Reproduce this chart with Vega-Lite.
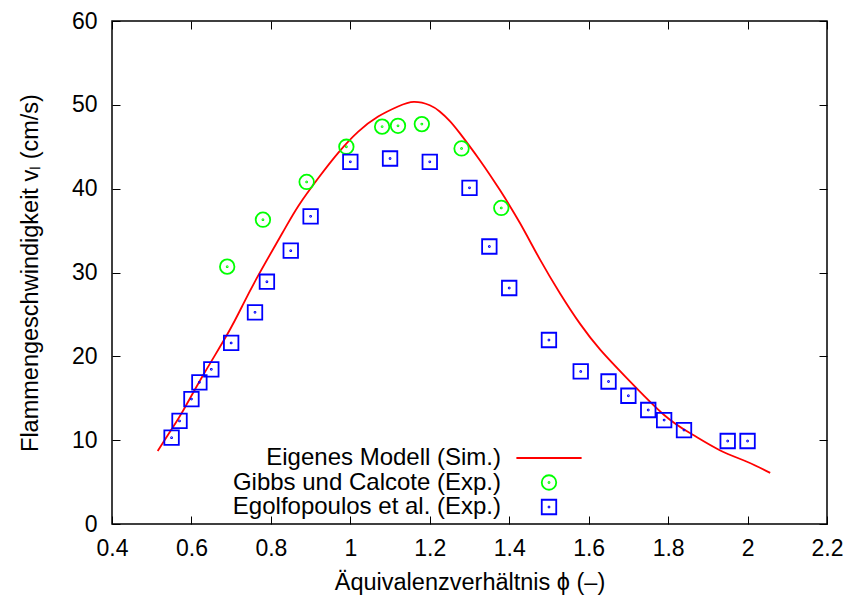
{
  "$schema": "https://vega.github.io/schema/vega-lite/v6.json",
  "width": 715,
  "height": 503,
  "autosize": {"type": "none"},
  "padding": {"left": 112, "top": 21, "right": 22, "bottom": 74},
  "background": "white",
  "config": {
    "font": "Liberation Sans",
    "view": {"stroke": "black", "strokeWidth": 1.5},
    "axis": {
      "grid": false,
      "domain": false,
      "labelFlush": false,
      "labelOverlap": false,
      "tickColor": "black",
      "tickSize": -8,
      "tickWidth": 1,
      "labelFontSize": 23,
      "labelColor": "black",
      "titleFontSize": 23.5,
      "titleFontWeight": "normal",
      "titleColor": "black"
    },
    "legend": {
      "orient": "none",
      "legendX": 425,
      "legendY": 425,
      "labelAlign": "right",
      "labelOffset": -60,
      "labelFontSize": 24,
      "labelColor": "black",
      "labelLimit": 400,
      "symbolStrokeWidth": 1.8,
      "symbolSize": 210,
      "rowPadding": 0.5
    }
  },
  "datasets": {
    "model": [
      {"series": "Eigenes Modell (Sim.)", "phi": 0.515, "v": 8.7},
      {"series": "Eigenes Modell (Sim.)", "phi": 0.55, "v": 11.3},
      {"series": "Eigenes Modell (Sim.)", "phi": 0.58, "v": 13.6},
      {"series": "Eigenes Modell (Sim.)", "phi": 0.63, "v": 17.8},
      {"series": "Eigenes Modell (Sim.)", "phi": 0.69, "v": 22.6},
      {"series": "Eigenes Modell (Sim.)", "phi": 0.73, "v": 26.2},
      {"series": "Eigenes Modell (Sim.)", "phi": 0.77, "v": 29.8},
      {"series": "Eigenes Modell (Sim.)", "phi": 0.83, "v": 34.8},
      {"series": "Eigenes Modell (Sim.)", "phi": 0.87, "v": 38.0},
      {"series": "Eigenes Modell (Sim.)", "phi": 0.92, "v": 41.3},
      {"series": "Eigenes Modell (Sim.)", "phi": 0.97, "v": 44.3},
      {"series": "Eigenes Modell (Sim.)", "phi": 1.02, "v": 46.8},
      {"series": "Eigenes Modell (Sim.)", "phi": 1.07, "v": 48.6},
      {"series": "Eigenes Modell (Sim.)", "phi": 1.12, "v": 49.8},
      {"series": "Eigenes Modell (Sim.)", "phi": 1.16, "v": 50.35},
      {"series": "Eigenes Modell (Sim.)", "phi": 1.2, "v": 49.95},
      {"series": "Eigenes Modell (Sim.)", "phi": 1.225, "v": 49.2},
      {"series": "Eigenes Modell (Sim.)", "phi": 1.25, "v": 48.1},
      {"series": "Eigenes Modell (Sim.)", "phi": 1.276, "v": 46.6},
      {"series": "Eigenes Modell (Sim.)", "phi": 1.326, "v": 43.4},
      {"series": "Eigenes Modell (Sim.)", "phi": 1.377, "v": 39.8},
      {"series": "Eigenes Modell (Sim.)", "phi": 1.427, "v": 35.9},
      {"series": "Eigenes Modell (Sim.)", "phi": 1.478, "v": 31.5},
      {"series": "Eigenes Modell (Sim.)", "phi": 1.528, "v": 27.5},
      {"series": "Eigenes Modell (Sim.)", "phi": 1.578, "v": 23.9},
      {"series": "Eigenes Modell (Sim.)", "phi": 1.629, "v": 20.8},
      {"series": "Eigenes Modell (Sim.)", "phi": 1.696, "v": 17.4},
      {"series": "Eigenes Modell (Sim.)", "phi": 1.79, "v": 13.0},
      {"series": "Eigenes Modell (Sim.)", "phi": 1.86, "v": 10.7},
      {"series": "Eigenes Modell (Sim.)", "phi": 1.93, "v": 8.8},
      {"series": "Eigenes Modell (Sim.)", "phi": 2.0, "v": 7.4},
      {"series": "Eigenes Modell (Sim.)", "phi": 2.057, "v": 6.1}
    ],
    "experiments": [
      {"series": "Gibbs und Calcote (Exp.)", "phi": 0.69, "v": 30.7},
      {"series": "Gibbs und Calcote (Exp.)", "phi": 0.78, "v": 36.3},
      {"series": "Gibbs und Calcote (Exp.)", "phi": 0.89, "v": 40.8},
      {"series": "Gibbs und Calcote (Exp.)", "phi": 0.99, "v": 45.0},
      {"series": "Gibbs und Calcote (Exp.)", "phi": 1.08, "v": 47.4},
      {"series": "Gibbs und Calcote (Exp.)", "phi": 1.12, "v": 47.5},
      {"series": "Gibbs und Calcote (Exp.)", "phi": 1.18, "v": 47.7},
      {"series": "Gibbs und Calcote (Exp.)", "phi": 1.28, "v": 44.8},
      {"series": "Gibbs und Calcote (Exp.)", "phi": 1.38, "v": 37.7},
      {"series": "Egolfopoulos et al. (Exp.)", "phi": 0.55, "v": 10.3},
      {"series": "Egolfopoulos et al. (Exp.)", "phi": 0.57, "v": 12.3},
      {"series": "Egolfopoulos et al. (Exp.)", "phi": 0.6, "v": 14.9},
      {"series": "Egolfopoulos et al. (Exp.)", "phi": 0.62, "v": 16.9},
      {"series": "Egolfopoulos et al. (Exp.)", "phi": 0.65, "v": 18.45},
      {"series": "Egolfopoulos et al. (Exp.)", "phi": 0.7, "v": 21.6},
      {"series": "Egolfopoulos et al. (Exp.)", "phi": 0.76, "v": 25.25},
      {"series": "Egolfopoulos et al. (Exp.)", "phi": 0.79, "v": 28.9},
      {"series": "Egolfopoulos et al. (Exp.)", "phi": 0.85, "v": 32.6},
      {"series": "Egolfopoulos et al. (Exp.)", "phi": 0.9, "v": 36.7},
      {"series": "Egolfopoulos et al. (Exp.)", "phi": 1.0, "v": 43.2},
      {"series": "Egolfopoulos et al. (Exp.)", "phi": 1.1, "v": 43.6},
      {"series": "Egolfopoulos et al. (Exp.)", "phi": 1.2, "v": 43.2},
      {"series": "Egolfopoulos et al. (Exp.)", "phi": 1.3, "v": 40.1},
      {"series": "Egolfopoulos et al. (Exp.)", "phi": 1.35, "v": 33.1},
      {"series": "Egolfopoulos et al. (Exp.)", "phi": 1.4, "v": 28.15},
      {"series": "Egolfopoulos et al. (Exp.)", "phi": 1.5, "v": 21.95},
      {"series": "Egolfopoulos et al. (Exp.)", "phi": 1.58, "v": 18.2},
      {"series": "Egolfopoulos et al. (Exp.)", "phi": 1.65, "v": 17.0},
      {"series": "Egolfopoulos et al. (Exp.)", "phi": 1.7, "v": 15.3},
      {"series": "Egolfopoulos et al. (Exp.)", "phi": 1.75, "v": 13.6},
      {"series": "Egolfopoulos et al. (Exp.)", "phi": 1.79, "v": 12.4},
      {"series": "Egolfopoulos et al. (Exp.)", "phi": 1.84, "v": 11.2},
      {"series": "Egolfopoulos et al. (Exp.)", "phi": 1.95, "v": 9.9},
      {"series": "Egolfopoulos et al. (Exp.)", "phi": 2.0, "v": 9.9}
    ]
  },
  "layer": [
    {
      "data": {"name": "model"},
      "mark": {"type": "line", "strokeWidth": 1.8, "interpolate": "natural"},
      "encoding": {
        "x": {
          "field": "phi",
          "type": "quantitative",
          "scale": {"domain": [0.4, 2.2], "nice": false, "zero": false},
          "axis": {
            "orient": "bottom",
            "title": "Äquivalenzverhältnis ϕ (–)",
            "values": [0.4, 0.6, 0.8, 1, 1.2, 1.4, 1.6, 1.8, 2, 2.2],
            "format": "~g",
            "labelPadding": 21,
            "titlePadding": 10
          }
        },
        "y": {
          "field": "v",
          "type": "quantitative",
          "scale": {"domain": [0, 60], "nice": false},
          "axis": {
            "orient": "left",
            "title": "Flammengeschwindigkeit vₗ (cm/s)",
            "values": [0, 10, 20, 30, 40, 50, 60],
            "labelPadding": 23,
            "titlePadding": 29
          }
        },
        "color": {
          "field": "series",
          "type": "nominal",
          "scale": {
            "domain": ["Eigenes Modell (Sim.)", "Gibbs und Calcote (Exp.)", "Egolfopoulos et al. (Exp.)"],
            "range": ["#ff0000", "#00ff00", "#0000ff"]
          },
          "legend": {"title": null}
        }
      }
    },
    {
      "data": {"name": "experiments"},
      "mark": {"type": "point", "filled": false, "strokeWidth": 1.8, "size": 210, "opacity": 1},
      "encoding": {
        "x": {
          "field": "phi",
          "type": "quantitative",
          "axis": {
            "orient": "top",
            "title": null,
            "labels": false,
            "values": [0.4, 0.6, 0.8, 1, 1.2, 1.4, 1.6, 1.8, 2, 2.2]
          }
        },
        "y": {
          "field": "v",
          "type": "quantitative",
          "axis": {
            "orient": "right",
            "title": null,
            "labels": false,
            "values": [0, 10, 20, 30, 40, 50, 60]
          }
        },
        "color": {"field": "series", "type": "nominal", "legend": {"title": null}},
        "shape": {
          "field": "series",
          "type": "nominal",
          "scale": {
            "domain": ["Eigenes Modell (Sim.)", "Gibbs und Calcote (Exp.)", "Egolfopoulos et al. (Exp.)"],
            "range": [
              "M-4.5,0H4.5",
              "M1,0A1,1,0,1,1,-1,0A1,1,0,1,1,1,0Z M0.07,0A0.07,0.07,0,1,1,-0.07,0A0.07,0.07,0,1,1,0.07,0Z",
              "M-1,-1H1V1H-1Z M0.07,0A0.07,0.07,0,1,1,-0.07,0A0.07,0.07,0,1,1,0.07,0Z"
            ]
          },
          "legend": {"title": null}
        }
      }
    }
  ],
  "resolve": {"axis": {"x": "independent", "y": "independent"}}
}
